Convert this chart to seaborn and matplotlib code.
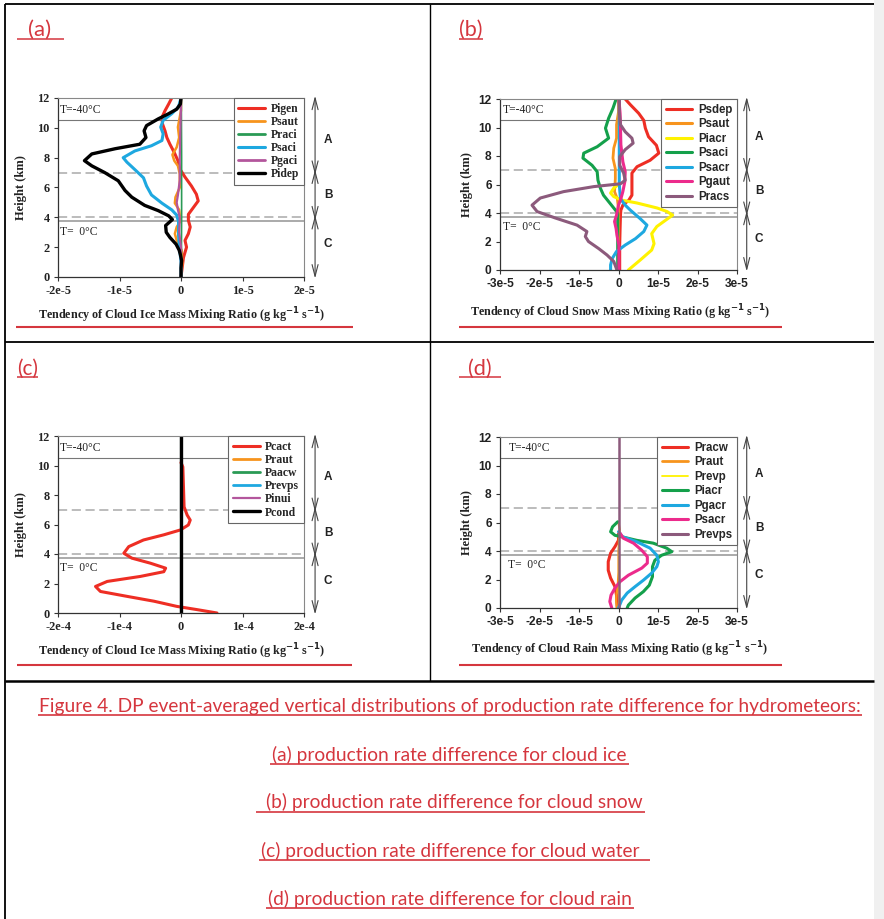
import numpy as np
import pandas as pd
import matplotlib
matplotlib.use("Agg")
import matplotlib.pyplot as plt
import seaborn as sns
from matplotlib.lines import Line2D
from matplotlib.patches import Rectangle

# ---------------- data (values in units shown by the axis scale) ----------------
# Panel (a): cloud ice, values in 1e-5 g/kg/s
a_pigen_h = [0, 0.65, 1.3, 2.0, 2.45, 2.9, 3.35, 3.8, 4.2, 4.65, 5.1, 5.55, 6.1, 6.7, 7.25, 7.8, 8.35, 8.9, 9.35, 9.8, 10.25, 10.7, 11.15, 11.6, 12.0]
a_pigen = [0, 0.02, 0.04, 0.09, 0.065, 0.12, 0.15, 0.12, 0.12, 0.2, 0.28, 0.25, 0.17, 0.065, -0.02, -0.05, -0.11, -0.18, -0.23, -0.26, -0.3, -0.31, -0.26, -0.2, -0.15]
a_psaut_h = [0, 0.9, 1.8, 2.45, 2.9, 3.35, 3.75, 4.5, 4.95, 5.35, 6.0, 6.9, 7.45, 7.8, 8.2, 8.7, 9.35, 10.05, 10.5, 11.15, 12.0]
a_psaut = [0, 0.02, 0.01, -0.07, -0.1, -0.07, -0.01, -0.03, -0.1, -0.09, -0.02, -0.02, -0.05, -0.11, -0.14, -0.07, -0.03, -0.05, -0.03, 0, 0]
a_praci_h = [0, 4, 8, 12]
a_praci = [0.005, 0.01, 0.01, 0.005]
a_psaci_h = [0, 1.0, 2.2, 2.8, 3.7, 4.15, 4.5, 4.95, 5.5, 6.1, 6.65, 7.2, 7.7, 8.0, 8.45, 8.8, 9.15, 9.6, 10.05, 10.5, 10.95, 11.4, 12.0]
a_psaci = [0, 0, -0.03, -0.04, -0.04, -0.07, -0.15, -0.31, -0.48, -0.56, -0.61, -0.75, -0.88, -0.94, -0.75, -0.48, -0.31, -0.29, -0.33, -0.29, -0.15, -0.04, 0]
a_pgaci_h = [0, 2, 3, 4, 4.5, 5, 5.5, 6.5, 8, 10, 11.5, 12]
a_pgaci = [0, 0, -0.03, -0.02, -0.05, -0.07, -0.05, -0.02, -0.02, -0.01, 0, 0]
a_pidep_h = [0, 0.6, 1.1, 1.5, 1.8, 2.2, 2.65, 3.0, 3.45, 3.85, 4.1, 4.45, 4.8, 5.35, 5.8, 6.45, 7.0, 7.45, 7.8, 8.25, 8.6, 8.9, 9.35, 9.8, 10.15, 10.6, 10.95, 11.25, 11.6, 12.0]
a_pidep = [0, 0.0, 0.01, -0.01, -0.03, -0.08, -0.18, -0.24, -0.25, -0.14, -0.2, -0.37, -0.59, -0.8, -0.91, -1.02, -1.24, -1.45, -1.57, -1.45, -1.07, -0.67, -0.57, -0.6, -0.56, -0.37, -0.2, -0.07, -0.01, 0]

# Panel (b): cloud snow, values in 1e-5
b_psdep_h = [0, 1.75, 2.9, 3.85, 4.2, 4.55, 4.9, 5.25, 5.75, 6.3, 6.8, 7.25, 7.7, 8.2, 8.75, 9.35, 9.95, 10.5, 11.0, 11.6, 12.0]
b_psdep = [0.03, 0.03, 0.04, 0.05, 0.06, 0.11, 0.26, 0.34, 0.34, 0.34, 0.34, 0.47, 0.8, 1.02, 0.96, 0.76, 0.68, 0.64, 0.51, 0.3, 0.17]
b_psaut_h = [0, 4.3, 5.0, 5.5, 6.4, 7.1, 7.85, 8.55, 9.25, 10.2, 11.1, 12]
b_psaut = [0, 0, -0.03, -0.1, -0.08, -0.08, -0.14, -0.12, -0.05, -0.05, 0, 0]
b_piacr_h = [0, 0.7, 1.4, 1.85, 2.55, 3.05, 3.85, 4.1, 4.35, 4.7, 4.9, 5.15, 5.4, 5.75, 6.0]
b_piacr = [0.25, 0.55, 0.84, 0.9, 0.84, 0.97, 1.37, 1.23, 0.98, 0.47, 0.09, -0.12, -0.2, -0.12, 0]
b_psaci_h = [0, 1.3, 2.45, 3.4, 4.0, 4.35, 4.8, 5.25, 5.75, 6.3, 6.9, 7.35, 7.85, 8.2, 8.65, 9.25, 9.95, 10.65, 11.35, 12.0]
b_psaci = [-0.02, -0.02, -0.02, -0.02, -0.02, -0.12, -0.25, -0.38, -0.46, -0.52, -0.54, -0.67, -0.9, -0.88, -0.54, -0.25, -0.33, -0.25, -0.14, -0.06]
b_psacr_h = [0, 0.35, 0.8, 1.3, 1.75, 2.2, 2.7, 3.15, 3.6, 4.2, 4.55, 5.0, 6.0, 8.0, 10.0, 12.0]
b_psacr = [-0.2, -0.2, -0.16, -0.05, 0.17, 0.43, 0.64, 0.72, 0.55, 0.3, 0.17, 0.05, 0.02, 0.02, 0.02, 0.02]
b_pgaut_h = [0, 0.6, 1.75, 2.45, 2.9, 3.4, 3.85, 4.55, 5.0, 5.5, 6.2, 6.9, 7.6, 8.8, 10.0, 11.0, 12.0]
b_pgaut = [0.01, 0.01, 0.01, -0.04, -0.06, -0.1, -0.05, 0.0, 0.06, 0.11, 0.16, 0.17, 0.11, 0.06, 0.05, 0.04, 0.01]
b_pracs_h = [0, 0.6, 1.05, 1.5, 2.0, 2.35, 2.7, 3.15, 3.65, 4.1, 4.55, 5.05, 5.5, 5.85, 6.05, 6.3, 6.8, 7.35, 7.95, 8.45, 8.9, 9.25, 9.7, 10.2, 11.1, 12.0]
b_pracs = [-0.04, -0.12, -0.29, -0.5, -0.76, -0.84, -0.8, -1.05, -1.6, -2.06, -2.19, -1.98, -1.39, -0.63, 0.05, 0.17, 0.13, 0.03, 0.03, 0.17, 0.37, 0.34, 0.17, 0.05, 0.02, 0.02]

# Panel (c): cloud water, values in 1e-4
c_pcact_h = [0, 0.23, 0.45, 0.8, 1.13, 1.46, 1.8, 2.14, 2.48, 2.8, 3.04, 3.38, 3.72, 4.05, 4.5, 4.95, 5.3, 5.63, 5.97, 6.3, 6.64, 7.2, 8.56, 9.9, 10.2]
c_pcact = [0.585, 0.26, -0.07, -0.44, -0.88, -1.31, -1.39, -1.2, -0.66, -0.28, -0.25, -0.5, -0.8, -0.93, -0.85, -0.61, -0.28, -0.01, 0.12, 0.15, 0.1, 0.05, 0.04, 0.03, 0.0]
c_praut_h = [0, 12]
c_praut = [0, 0]
c_paacw_h = [0, 12]
c_paacw = [0, 0]
c_prevps_h = [0, 12]
c_prevps = [0, 0]
c_pinui_h = [0, 3.5, 4.5, 5.5, 6.5, 12]
c_pinui = [0, 0, 0.01, 0.01, 0, 0]
c_pcond_h = [0, 12]
c_pcond = [0, 0]

# Panel (d): cloud rain, values in 1e-5
d_pracw_h = [0, 0.9, 1.5, 2.1, 2.65, 3.25, 3.85, 4.3, 4.75, 5.2]
d_pracw = [-0.03, -0.05, -0.09, -0.2, -0.26, -0.26, -0.2, -0.09, 0, 0]
d_praut_h = [0, 0.5, 1.0, 1.5, 2.5, 4.0, 5.0, 5.5, 6.0]
d_praut = [-0.04, -0.06, -0.05, -0.02, 0, 0, 0.02, 0.03, 0]
d_prevp_h = [0, 1, 2, 3, 4, 5]
d_prevp = [0.01, 0.01, 0.01, 0.01, 0.01, 0.0]
d_piacr_h = [0, 0.2, 0.7, 1.15, 1.6, 2.2, 2.9, 3.35, 3.7, 3.95, 4.2, 4.55, 4.75, 5.0, 5.1, 5.35, 5.7, 6.05]
d_piacr = [0.22, 0.25, 0.42, 0.63, 0.78, 0.86, 0.86, 0.92, 1.09, 1.35, 1.22, 0.88, 0.46, 0.08, -0.09, -0.2, -0.15, -0.02]
d_pgacr_h = [0, 0.55, 1.05, 1.5, 1.95, 2.45, 2.9, 3.25, 3.7, 4.2, 4.65, 5.0, 5.35]
d_pgacr = [0, 0.08, 0.22, 0.42, 0.63, 0.84, 0.97, 1.01, 0.97, 0.8, 0.46, 0.1, 0.0]
d_psacr_h = [0, 0.45, 0.9, 1.4, 1.85, 2.3, 2.8, 3.15, 3.6, 4.05, 4.55, 4.9, 5.25]
d_psacr = [-0.17, -0.22, -0.19, -0.09, 0.04, 0.25, 0.59, 0.73, 0.73, 0.59, 0.38, 0.12, 0.04]
d_prevps_h = [0, 12]
d_prevps = [0, 0]

yticks = [0, 2, 4, 6, 8, 10, 12]
xticks_a = [-2e-5, -1e-5, 0, 1e-5, 2e-5]
xticklabels_a = ["-2e-5", "-1e-5", "0", "1e-5", "2e-5"]
xticks_b = [-3e-5, -2e-5, -1e-5, 0, 1e-5, 2e-5, 3e-5]
xticklabels_b = ["-3e-5", "-2e-5", "-1e-5", "0", "1e-5", "2e-5", "3e-5"]
xticks_c = [-2e-4, -1e-4, 0, 1e-4, 2e-4]
xticklabels_c = ["-2e-4", "-1e-4", "0", "1e-4", "2e-4"]

caption_lines = [
    "Figure 4. DP event-averaged vertical distributions of production rate difference for hydrometeors:",
    "(a) production rate difference for cloud ice",
    "(b) production rate difference for cloud snow",
    "(c) production rate difference for cloud water",
    "(d) production rate difference for cloud rain",
]

# ---------------- style ----------------
sns.set_theme(style="white")
plt.rcParams["font.family"] = ["DejaVu Sans"]
plt.rcParams["axes.unicode_minus"] = False
SERIF = ["Liberation Serif", "DejaVu Serif"]
SANS = ["Liberation Sans", "DejaVu Sans"]
NARROW = ["Lato", "Open Sans", "DejaVu Sans"]
TXTRED = "#d5363e"

RED, ORANGE, YELLOW = "#ee2e24", "#f7941d", "#fff200"
GREEN_A, GREEN = "#2a9a55", "#14a04b"
CYAN, MAUVE, PINK, PURPLE, BLACK = "#1ea8e0", "#b3569c", "#ec2b8c", "#8c5a7c", "#000000"

W, H = 884, 919
fig = plt.figure(figsize=(W / 100, H / 100), dpi=100)
fig.patch.set_facecolor("white")
renderer = fig.canvas.get_renderer()


def fx(x):
    return x / W


def fy(y):
    return 1 - y / H


def px_axes(l, t, r, b):
    return fig.add_axes([fx(l), fy(b), (r - l) / W, (b - t) / H])


def fig_line(x0, y0, x1, y1, color="black", lw=1.0, **kw):
    fig.add_artist(Line2D([fx(x0), fx(x1)], [fy(y0), fy(y1)], transform=fig.transFigure,
                          color=color, lw=lw, solid_capstyle="butt", **kw))


def fit_text(x, y, s, width, ha="left", **kw):
    t = fig.text(fx(x), fy(y), s, ha=ha, va="center", fontsize=10, **kw)
    w = t.get_window_extent(renderer).width
    t.set_fontsize(10 * width / w)
    return t


def panel(ax, series, scale, xlim, xticks, xticklabels, xlabel, fam, tick_fs, leg_fs, leg_sp,
          xlabel_pos, ylabel_x, t40_x, arrow_x, abc_x, abc_y, label_fs):
    handles = []
    for name, h, v, col, lw, leg_lw in series:
        sns.lineplot(x=np.array(v) * scale, y=np.array(h), sort=False, estimator=None, orient="y",
                     color=col, linewidth=lw, ax=ax, legend=False,
                     solid_joinstyle="round", solid_capstyle="round")
        handles.append(Line2D([0], [0], color=col, lw=leg_lw, label=name))
    ax.set_xlim(*xlim)
    ax.set_ylim(0, 12)
    ax.set_xticks(xticks, xticklabels)
    ax.set_yticks(yticks, [str(t) for t in yticks])
    for lab in ax.get_xticklabels() + ax.get_yticklabels():
        lab.set_family(fam)
        lab.set_fontweight("bold")
        lab.set_fontsize(tick_fs)
        lab.set_color("#222222")
    ax.tick_params(axis="both", direction="out", length=3, width=0.8, color="#333333", pad=3,
                   bottom=True, left=True)
    for side in ["left", "bottom"]:
        ax.spines[side].set_color("#333333")
        ax.spines[side].set_linewidth(0.9)
    for side in ["top", "right"]:
        ax.spines[side].set_color("#888888")
        ax.spines[side].set_linewidth(0.8)
    # reference levels
    ax.axhline(10.5, color="#777777", lw=0.8, zorder=1)
    ax.axhline(7.0, color="#aaaaaa", lw=1.1, ls=(0, (6, 3)), zorder=1)
    ax.axhline(4.0, color="#aaaaaa", lw=1.1, ls=(0, (6, 3)), zorder=1)
    ax.axhline(3.75, color="#aaaaaa", lw=1.4, zorder=1)
    tr = ax.get_yaxis_transform()
    ax.text(t40_x, 11.2, "T=-40°C", transform=tr, family=SERIF, fontsize=8.3, va="center", color="#222222")
    ax.text(t40_x, 3.05, "T=  0°C", transform=tr, family=SERIF, fontsize=8.3, va="center", color="#222222")
    ax.set_xlabel(xlabel, family=SERIF, fontweight="bold", fontsize=8.7, color="#222222", va="center")
    ax.xaxis.set_label_coords(*xlabel_pos)
    ax.set_ylabel("Height (km)", family=SERIF, fontweight="bold", fontsize=9, color="#222222", va="center")
    ax.yaxis.set_label_coords(ylabel_x, 0.5)
    leg = ax.legend(handles=handles, loc="upper right", bbox_to_anchor=(1.0, 1.0), borderaxespad=0,
                    prop=dict(family=fam, weight="bold", size=leg_fs), handlelength=2.3,
                    handletextpad=0.5, labelspacing=leg_sp, borderpad=0.4, frameon=True,
                    fancybox=False, framealpha=1, edgecolor="#666666")
    leg.get_frame().set_linewidth(0.8)
    # region arrows
    for (y0, y1), lab, ly in zip([(12.15, 6.85), (7.2, 3.8), (4.15, -0.1)], ["A", "B", "C"], abc_y):
        ax.annotate("", xy=(arrow_x, y1), xytext=(arrow_x, y0), xycoords=("axes fraction", "data"),
                    textcoords=("axes fraction", "data"), annotation_clip=False,
                    arrowprops=dict(arrowstyle="<->,head_length=0.7,head_width=0.18", color="#444444",
                                    lw=0.8, shrinkA=0, shrinkB=0))
        ax.text(abc_x, ly, lab, transform=tr, family=SANS, fontweight="bold", fontsize=label_fs,
                ha="center", va="center", color="#222222")


# ---------------- panels ----------------
ax_a = px_axes(58, 98, 304, 277)
series_a = [
    ("Pigen", a_pigen_h, a_pigen, RED, 2.2, 2.2),
    ("Psaut", a_psaut_h, a_psaut, ORANGE, 1.8, 2.0),
    ("Praci", a_praci_h, a_praci, GREEN_A, 1.2, 2.0),
    ("Psaci", a_psaci_h, a_psaci, CYAN, 2.2, 2.2),
    ("Pgaci", a_pgaci_h, a_pgaci, MAUVE, 1.6, 2.0),
    ("Pidep", a_pidep_h, a_pidep, BLACK, 2.4, 2.4),
]
panel(ax_a, series_a, 1e-5, (-2e-5, 2e-5), xticks_a, xticklabels_a,
      r"Tendency of Cloud Ice Mass Mixing Ratio (g kg$^{\mathbf{-1}}$ s$^{\mathbf{-1}}$)",
      SERIF, 8.8, 8.4, 0.1, (0.504, -0.212), -0.15, 0.008, 1.045, 1.098, [9.2, 5.5, 2.2], 8.5)

ax_b = px_axes(500, 99, 737, 270)
series_b = [
    ("Psdep", b_psdep_h, b_psdep, RED, 2.2, 2.2),
    ("Psaut", b_psaut_h, b_psaut, ORANGE, 2.0, 2.2),
    ("Piacr", b_piacr_h, b_piacr, YELLOW, 2.2, 2.2),
    ("Psaci", b_psaci_h, b_psaci, GREEN, 2.2, 2.2),
    ("Psacr", b_psacr_h, b_psacr, CYAN, 2.2, 2.2),
    ("Pgaut", b_pgaut_h, b_pgaut, PINK, 2.2, 2.2),
    ("Pracs", b_pracs_h, b_pracs, PURPLE, 2.2, 2.2),
]
panel(ax_b, series_b, 1e-5, (-3e-5, 3e-5), xticks_b, xticklabels_b,
      r"Tendency of Cloud Snow Mass Mixing Ratio (g kg$^{\mathbf{-1}}$ s$^{\mathbf{-1}}$)",
      SANS, 8.6, 8.3, 0.22, (0.506, -0.245), -0.14, 0.012, 1.041, 1.093, [9.3, 5.55, 2.2], 8.5)

ax_c = px_axes(58, 436, 304, 613)
series_c = [
    ("Pcact", c_pcact_h, c_pcact, RED, 2.2, 2.2),
    ("Praut", c_praut_h, c_praut, ORANGE, 1.5, 2.0),
    ("Paacw", c_paacw_h, c_paacw, GREEN_A, 1.5, 2.0),
    ("Prevps", c_prevps_h, c_prevps, CYAN, 1.5, 2.0),
    ("Pinui", c_pinui_h, c_pinui, MAUVE, 1.5, 1.6),
    ("Pcond", c_pcond_h, c_pcond, BLACK, 2.4, 2.4),
]
panel(ax_c, series_c, 1e-4, (-2e-4, 2e-4), xticks_c, xticklabels_c,
      r"Tendency of Cloud Ice Mass Mixing Ratio (g kg$^{\mathbf{-1}}$ s$^{\mathbf{-1}}$)",
      SERIF, 8.8, 8.4, 0.1, (0.504, -0.215), -0.15, 0.008, 1.045, 1.098, [9.2, 5.4, 2.2], 8.5)

ax_d = px_axes(500, 437, 737, 608)
series_d = [
    ("Pracw", d_pracw_h, d_pracw, RED, 2.2, 2.2),
    ("Praut", d_praut_h, d_praut, ORANGE, 1.6, 2.0),
    ("Prevp", d_prevp_h, d_prevp, YELLOW, 1.0, 1.3),
    ("Piacr", d_piacr_h, d_piacr, GREEN, 2.2, 2.2),
    ("Pgacr", d_pgacr_h, d_pgacr, CYAN, 2.2, 2.2),
    ("Psacr", d_psacr_h, d_psacr, PINK, 2.2, 2.2),
    ("Prevps", d_prevps_h, d_prevps, PURPLE, 1.8, 2.2),
]
panel(ax_d, series_d, 1e-5, (-3e-5, 3e-5), xticks_b, xticklabels_b,
      r"Tendency of Cloud Rain Mass Mixing Ratio (g kg$^{\mathbf{-1}}$ s$^{\mathbf{-1}}$)",
      SANS, 8.6, 8.3, 0.22, (0.506, -0.24), -0.14, 0.035, 1.041, 1.093, [9.4, 5.6, 2.3], 8.5)

# ---------------- table frame, labels, caption ----------------
fig.add_artist(Rectangle((fx(874), 0), fx(10), 1, transform=fig.transFigure, color="#f0f0f0", lw=0))
fig_line(5, 4.3, 874, 4.3, lw=1.3)
fig_line(5, 4.3, 5, 919, lw=1.3)
fig_line(430, 4.3, 430, 681, lw=1.0)
fig_line(5, 342, 874, 342, lw=1.3)
fig_line(5, 681, 874, 681, lw=1.8)

# panel tags
fit_text(28, 29.5, "(a)", 23, family=NARROW, color=TXTRED)
fig_line(17, 38.5, 64, 38.5, color=TXTRED, lw=1.1)
fit_text(459, 29.5, "(b)", 24, family=NARROW, color=TXTRED)
fig_line(459, 38.5, 483, 38.5, color=TXTRED, lw=1.1)
fit_text(17, 368.5, "(c)", 21, family=NARROW, color=TXTRED)
fig_line(17, 377, 38, 377, color=TXTRED, lw=1.1)
fit_text(468, 368.5, "(d)", 24, family=NARROW, color=TXTRED)
fig_line(459, 377, 501, 377, color=TXTRED, lw=1.1)

# red underlines beneath the plots
for (x0, x1, y) in [(16, 353, 327), (459, 782, 327), (17, 352, 665), (459, 782, 665)]:
    fig_line(x0, y, x1, y, color=TXTRED, lw=1.5)

# caption
cap0 = fit_text(449.5, 706.5, caption_lines[0], 823, ha="center", family=NARROW, color=TXTRED)
cfs = cap0.get_fontsize()
cap_y = [706.5, 754.5, 802, 851, 899]
cap_ul = [(38, 862, 715), (270, 629, 764), (256, 645, 811.5), (259, 650, 860), (266, 634, 908)]
cap_x = [449.5, 449.5, 454.5, 450, 450]
for i in range(1, 5):
    fig.text(fx(cap_x[i]), fy(cap_y[i]), caption_lines[i], ha="center", va="center",
             fontsize=cfs, family=NARROW, color=TXTRED)
for (x0, x1, y) in cap_ul:
    fig_line(x0, y, x1, y, color=TXTRED, lw=1.2)

fig.savefig("out.png", dpi=100, facecolor="white")
